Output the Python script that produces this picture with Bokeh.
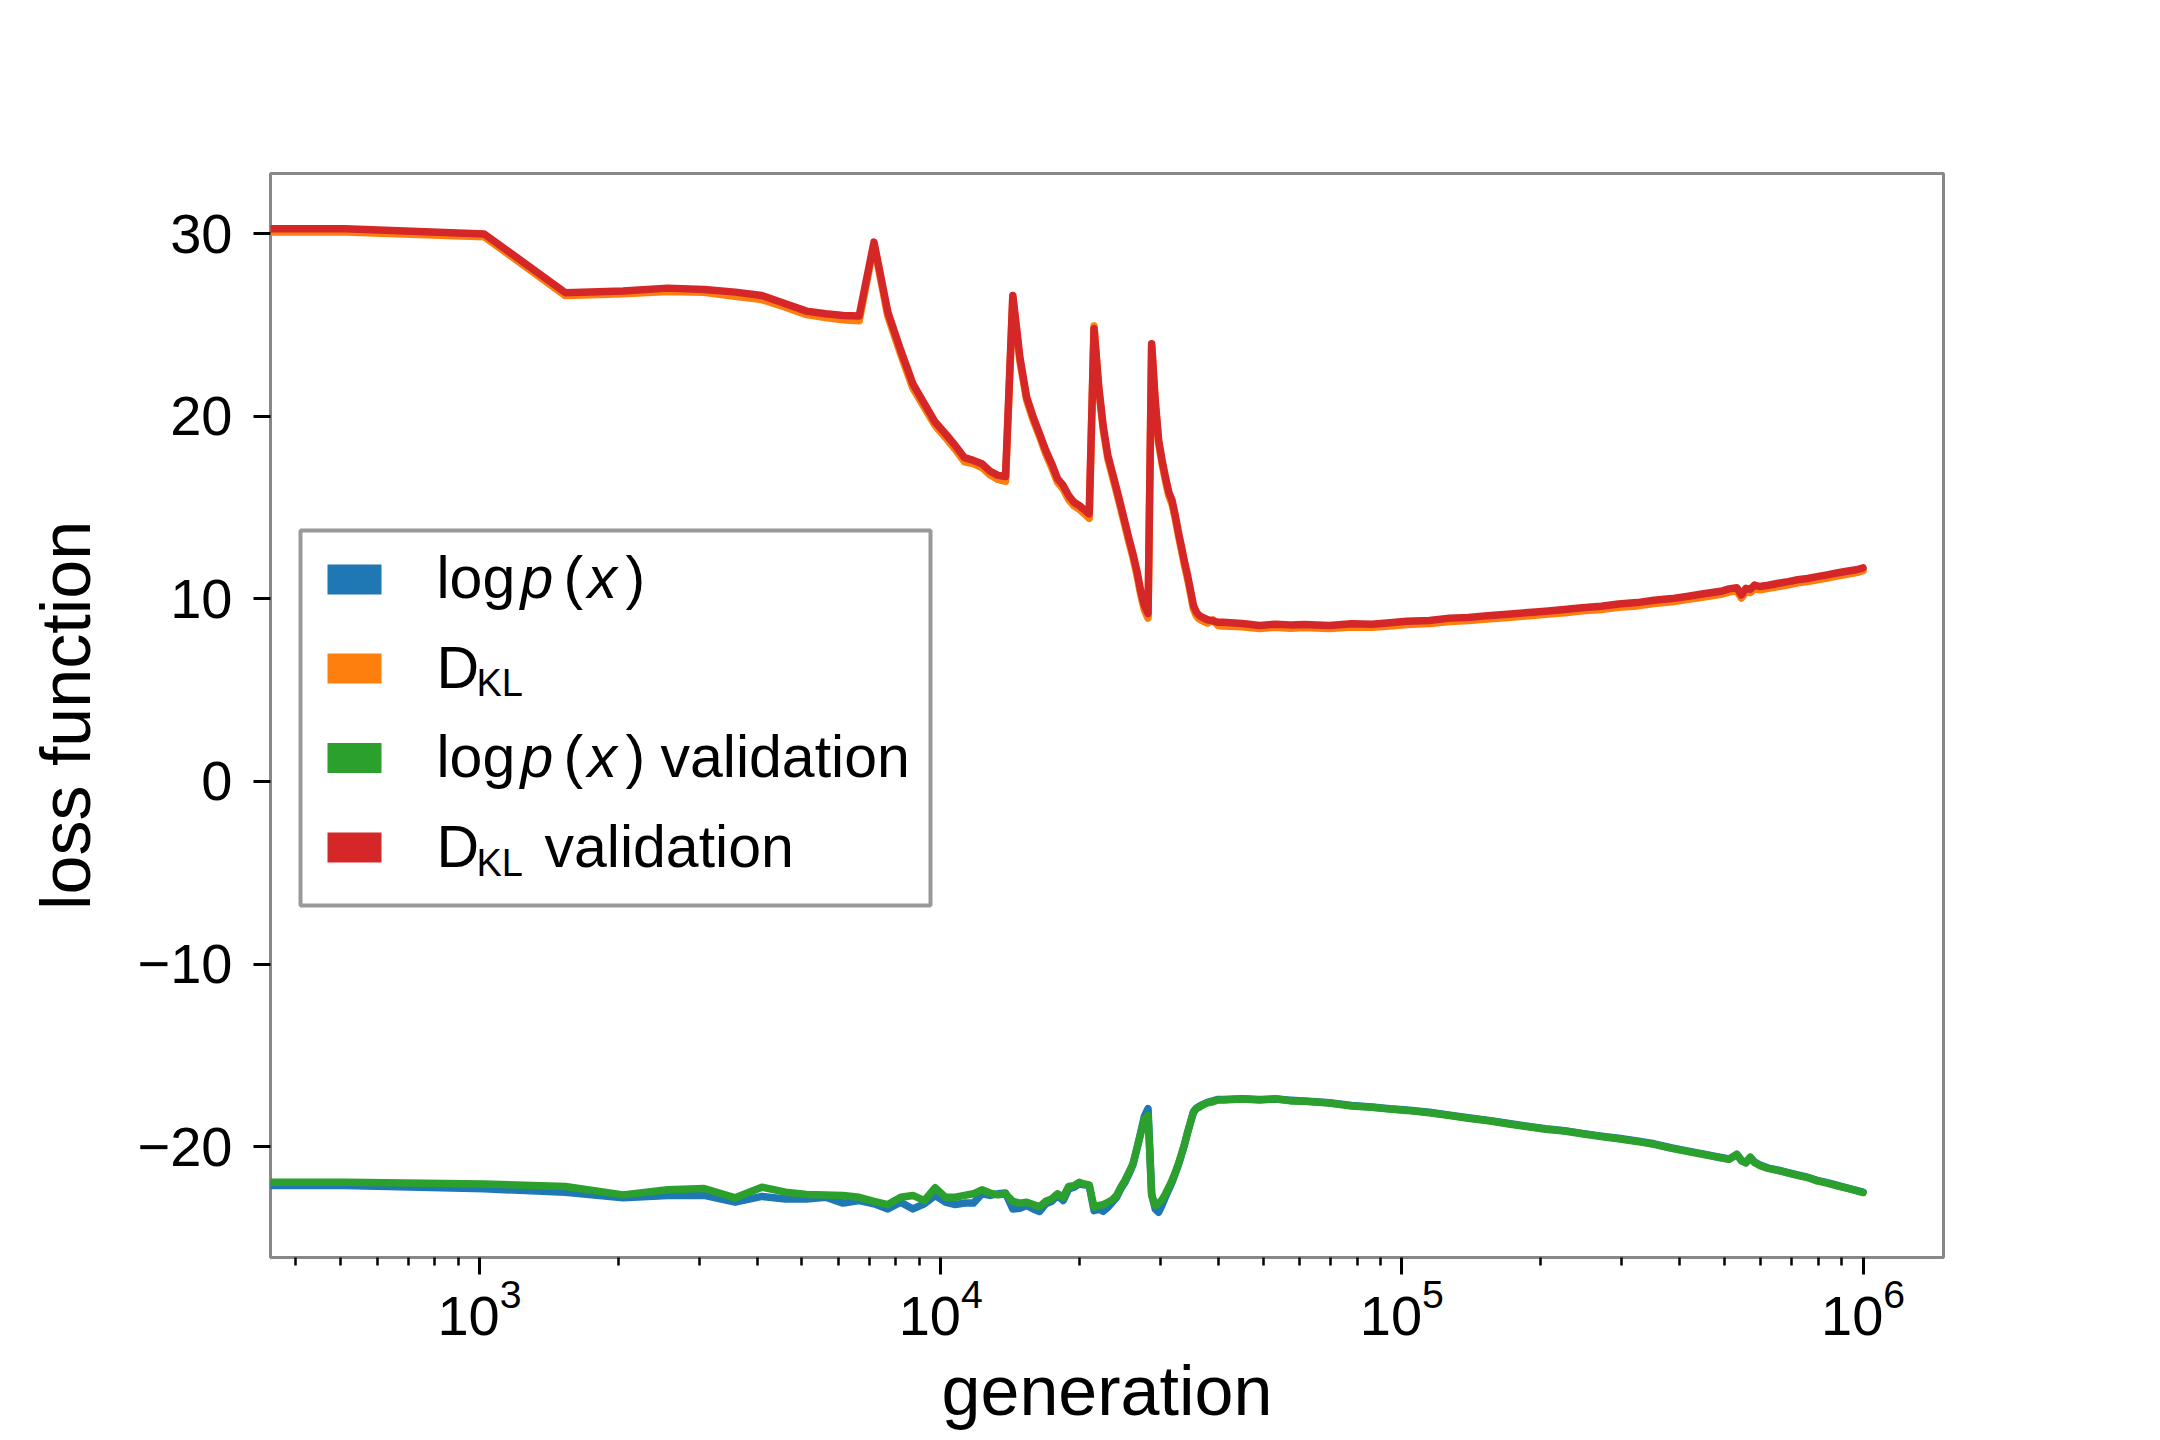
from bokeh.plotting import figure
from bokeh.models import Range1d, FixedTicker, CustomJSTickFormatter, Label, BoxAnnotation
from bokeh.embed import file_html
from bokeh.resources import INLINE

FONT = "Liberation Sans"

# generation numbers (first point is generation 0, shown at 1 on the log axis)
generations = ([1] + [512 * k for k in range(1, 73)] + [37888, 38912, 39936] +
               [40960, 45056, 49152, 53248, 57344, 61440, 69632, 77824, 86016, 94208,
                102400, 114688, 126976, 139264, 155648, 172032, 188416, 204800, 225280, 245760,
                270336, 294912, 323584, 352256, 385024, 417792, 454656, 491520, 512000, 532480,
                544768, 557056, 569344, 581632, 598016, 622592, 655360, 688128, 720896, 757760,
                794624, 835584, 876544, 921600, 966656, 999936])

logp_train = [-22.14, -22.14, -22.32, -22.50, -22.81, -22.68, -22.68, -23.05, -22.73, -22.87, -22.87, -22.78, -23.10, -22.96,
              -23.14, -23.42, -23.05, -23.42, -23.14, -22.68, -23.05, -23.18, -23.10, -23.10, -22.59, -22.68, -22.59, -22.55,
              -23.42, -23.38, -23.23, -23.42, -23.56, -23.14, -23.00, -22.68, -22.96, -22.32, -22.23, -22.05, -22.10, -22.14,
              -23.51, -23.42, -23.55, -23.33, -23.05, -22.78, -22.32, -21.96, -21.50, -21.00, -20.15, -19.25, -18.35, -17.93,
              -22.60, -23.42, -23.60, -23.20, -22.75, -22.35, -21.95, -21.48, -21.00, -20.45, -19.88, -19.25, -18.65, -18.10,
              -17.90, -17.80, -17.72,
              -17.58, -17.50, -17.42,
              -17.42, -17.38, -17.43, -17.40, -17.46, -17.50, -17.60, -17.75, -17.83, -17.93,
              -18.00, -18.12, -18.28, -18.42, -18.58, -18.75, -18.90, -19.02, -19.13, -19.28,
              -19.43, -19.55, -19.70, -19.85, -20.08, -20.25, -20.43, -20.60, -20.68, -20.45,
              -20.75, -20.88, -20.60, -20.85, -21.02, -21.18, -21.30, -21.43, -21.55, -21.68,
              -21.85, -21.98, -22.12, -22.26, -22.40, -22.50]

dkl_train = [30.10, 30.10, 29.85, 26.62, 26.72, 26.85, 26.80, 26.58, 26.40, 25.98, 25.58, 25.42, 25.30, 25.24,
             29.40, 25.50, 23.40, 21.55, 20.50, 19.50, 18.85, 18.20, 17.52, 17.42, 17.20, 16.80, 16.55, 16.45,
             26.50, 23.05, 20.90, 19.80, 18.90, 17.95, 17.20, 16.40, 16.02, 15.45, 15.10, 14.92, 14.68, 14.42,
             24.95, 21.45, 19.22, 17.68, 16.75, 15.85, 14.93, 14.02, 13.10, 12.28, 11.35, 10.25, 9.40, 8.95,
             23.85, 20.70, 18.50, 17.40, 16.48, 15.66, 15.20, 14.40, 13.48, 12.65, 11.82, 11.10, 10.28, 9.45,
             9.08, 8.90, 8.82,
             8.68, 8.85, 8.55,
             8.52, 8.48, 8.38, 8.45, 8.40, 8.44, 8.38, 8.47, 8.45, 8.52,
             8.60, 8.66, 8.76, 8.82, 8.92, 9.00, 9.08, 9.16, 9.24, 9.35,
             9.42, 9.55, 9.62, 9.75, 9.84, 9.98, 10.12, 10.25, 10.38, 10.45,
             10.05, 10.40, 10.35, 10.55, 10.50, 10.58, 10.68, 10.78, 10.88, 10.95,
             11.05, 11.15, 11.25, 11.35, 11.44, 11.55]

logp_valid = [-21.96, -21.96, -22.05, -22.19, -22.65, -22.37, -22.30, -22.81, -22.23, -22.50, -22.63, -22.65, -22.68, -22.78,
              -23.00, -23.18, -22.78, -22.68, -22.96, -22.26, -22.78, -22.78, -22.68, -22.59, -22.37, -22.55, -22.65, -22.59,
              -23.00, -23.10, -23.05, -23.18, -23.29, -23.00, -22.87, -22.59, -22.78, -22.19, -22.14, -21.96, -22.05, -22.10,
              -23.33, -23.23, -23.18, -23.05, -22.92, -22.68, -22.23, -21.86, -21.41, -20.95, -20.13, -19.31, -18.48, -18.30,
              -22.68, -23.23, -23.10, -22.92, -22.59, -22.23, -21.86, -21.41, -20.95, -20.40, -19.86, -19.22, -18.67, -18.12,
              -17.93, -17.85, -17.75,
              -17.60, -17.55, -17.45,
              -17.45, -17.40, -17.45, -17.38, -17.50, -17.52, -17.62, -17.78, -17.85, -17.95,
              -18.02, -18.15, -18.30, -18.45, -18.60, -18.78, -18.92, -19.05, -19.15, -19.30,
              -19.45, -19.58, -19.72, -19.88, -20.10, -20.28, -20.45, -20.62, -20.70, -20.42,
              -20.78, -20.90, -20.58, -20.88, -21.05, -21.20, -21.32, -21.45, -21.58, -21.70,
              -21.88, -22.00, -22.15, -22.28, -22.42, -22.52]

dkl_valid = [30.28, 30.28, 30.00, 26.78, 26.87, 27.03, 26.96, 26.81, 26.63, 26.17, 25.77, 25.63, 25.53, 25.50,
             29.55, 25.72, 23.62, 21.79, 20.70, 19.69, 19.05, 18.41, 17.74, 17.59, 17.41, 17.00, 16.77, 16.71,
             26.63, 23.25, 21.06, 19.96, 19.05, 18.14, 17.41, 16.59, 16.22, 15.67, 15.30, 15.12, 14.89, 14.67,
             24.80, 21.61, 19.41, 17.86, 16.95, 16.04, 15.12, 14.21, 13.30, 12.48, 11.56, 10.47, 9.64, 9.20,
             23.98, 20.88, 18.68, 17.59, 16.67, 15.85, 15.40, 14.58, 13.66, 12.84, 12.02, 11.29, 10.47, 9.64,
             9.28, 9.10, 9.00,
             8.86, 8.80, 8.72,
             8.72, 8.66, 8.55, 8.62, 8.58, 8.60, 8.55, 8.64, 8.62, 8.70,
             8.78, 8.82, 8.95, 8.98, 9.10, 9.18, 9.26, 9.33, 9.42, 9.52,
             9.60, 9.72, 9.80, 9.93, 10.02, 10.15, 10.30, 10.42, 10.55, 10.62,
             10.22, 10.58, 10.52, 10.76, 10.68, 10.75, 10.86, 10.95, 11.05, 11.12,
             11.22, 11.32, 11.42, 11.52, 11.60, 11.70]

series = [logp_train, dkl_train, logp_valid, dkl_valid]
colors = ["#1f77b4", "#ff7f0e", "#2ca02c", "#d62728"]

y_ticks = [-20, -10, 0, 10, 20, 30]
x_major = [1e3, 1e4, 1e5, 1e6]
x_minor = [m * 10 ** e for e in range(2, 6) for m in range(2, 10) if 352 < m * 10 ** e < 1.49e6]

p = figure(width=2144, height=1440, x_axis_type="log",
           x_range=Range1d(352.3, 1.494e6), y_range=Range1d(-26.08, 33.31),
           output_backend="svg", toolbar_location=None,
           min_border_left=270, min_border_right=201, min_border_top=173, min_border_bottom=183,
           background_fill_color="white", border_fill_color="white")
p.grid.visible = False
p.outline_line_color = "#888888"
p.outline_line_width = 3

p.xaxis.ticker = FixedTicker(ticks=x_major, minor_ticks=x_minor)
p.yaxis.ticker = FixedTicker(ticks=y_ticks)
p.yaxis.formatter = CustomJSTickFormatter(code="return tick < 0 ? '\u2212' + Math.abs(tick) : String(tick);")

for ax in (p.xaxis[0], p.yaxis[0]):
    ax.axis_line_color = None
    ax.major_tick_out = 17
    ax.major_tick_in = 0
    ax.major_tick_line_width = 3
    ax.major_tick_line_color = "black"
    ax.major_label_text_font = FONT
    ax.major_label_text_font_size = "56px"
    ax.major_label_text_color = "black"
    ax.axis_label_text_font = FONT
    ax.axis_label_text_font_size = "70px"
    ax.axis_label_text_font_style = "normal"
    ax.axis_label_text_color = "black"

p.xaxis.minor_tick_out = 8
p.xaxis.minor_tick_in = 0
p.xaxis.minor_tick_line_width = 2.5
p.xaxis.minor_tick_line_color = "black"
p.yaxis.minor_tick_line_color = None
p.xaxis.major_label_standoff = 4
p.yaxis.major_label_standoff = 21
p.xaxis.axis_label = "generation"
p.yaxis.axis_label = "loss function"
p.xaxis.axis_label_standoff = 14
p.yaxis.axis_label_standoff = 30

for ys, c in zip(series, colors):
    p.line(generations, ys, line_color=c, line_width=7.5, line_join="round", line_cap="round")

# legend frame
p.add_layout(BoxAnnotation(left=30, right=660, bottom=352, top=727,
                           left_units="screen", right_units="screen",
                           bottom_units="screen", top_units="screen",
                           fill_color="white", fill_alpha=1.0,
                           line_color="#999999", line_alpha=1.0, line_width=4))
row_centers = [678, 589, 499.5, 410]
for c, yc in zip(colors, row_centers):
    p.add_layout(BoxAnnotation(left=57, right=111, bottom=yc - 15, top=yc + 15,
                               left_units="screen", right_units="screen",
                               bottom_units="screen", top_units="screen",
                               fill_color=c, fill_alpha=1.0, line_color=None))

FS = 59
SUB = 38


def txt(x, base, s, style="normal", size=FS):
    # label anchor is the centre of the text box: shift from baseline accordingly
    p.add_layout(Label(x=x, y=base + 0.3465 * size, x_units="screen", y_units="screen", text=s,
                       text_font=FONT, text_font_size=f"{size}px", text_font_style=style,
                       text_color="black", text_align="left", text_baseline="alphabetic"))


x0 = 166
baselines = [659, 569.5, 480, 390]


def logp(yb):
    txt(x0, yb, "log")
    txt(x0 + 84, yb, "p", "italic")
    txt(x0 + 127, yb, "(")
    txt(x0 + 151, yb, "x", "italic")
    txt(x0 + 189, yb, ")")


def dkl(yb):
    txt(x0, yb, "D")
    txt(x0 + 40, yb - 8.4, "KL", size=SUB)


logp(baselines[0])
dkl(baselines[1])
logp(baselines[2])
txt(x0 + 224, baselines[2], "validation")
dkl(baselines[3])
txt(x0 + 108, baselines[3], "validation")

open("out.html", "w").write(file_html(p, INLINE))
